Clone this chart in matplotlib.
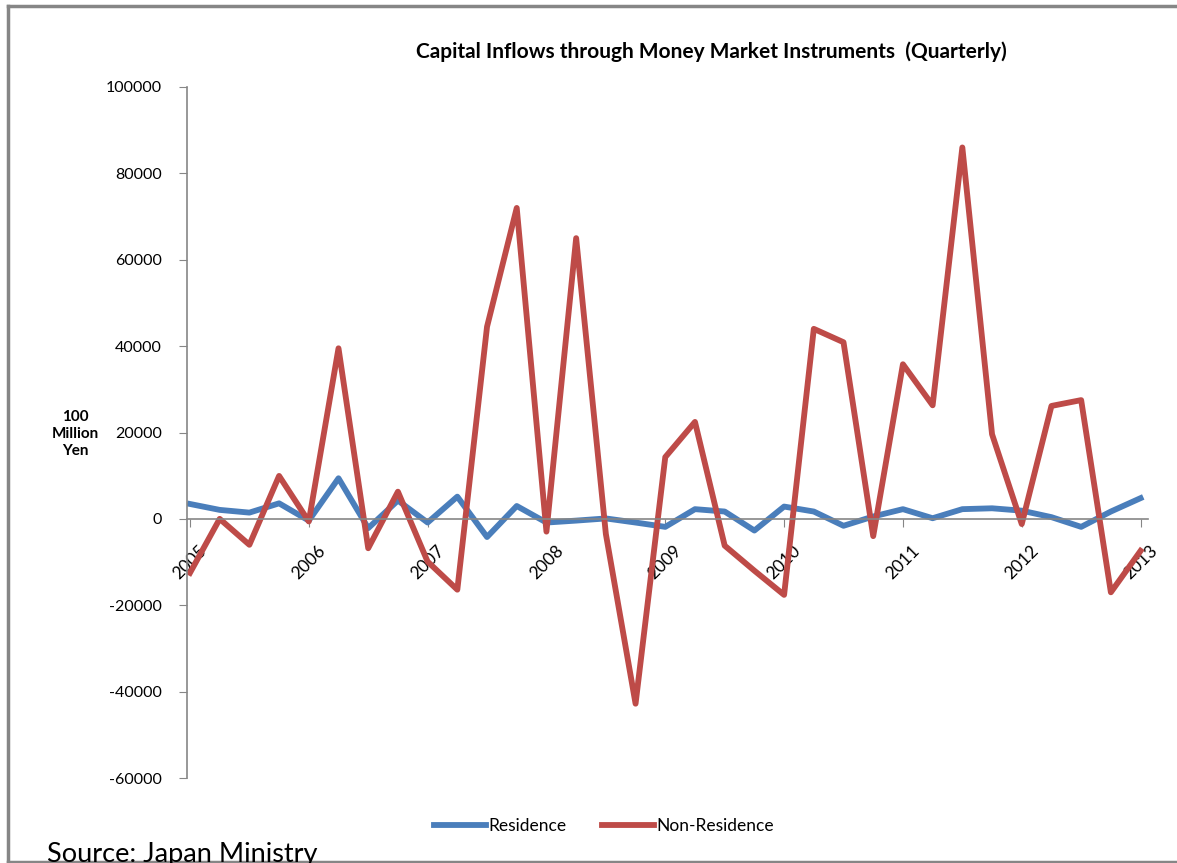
import numpy as np
import matplotlib.pyplot as plt
from matplotlib.lines import Line2D

# quarterly data, 2005Q1 .. 2013Q1 (100 million yen)
years = ["2005", "2006", "2007", "2008", "2009", "2010", "2011", "2012", "2013"]
residence = [3450, 2080, 1450, 3600, -400, 9400, -2150, 4250, -850, 5150,
             -4200, 2980, -850, -400, 100, -850, -1850, 2250, 1700, -2700,
             2850, 1700, -1600, 550, 2250, 150, 2250, 2450, 1900, 400,
             -1850, 1700, 4800]
non_residence = [-12500, 0, -6000, 9950, -600, 39500, -6800, 6300, -9900, -16400,
                 44500, 72000, -2950, 65000, -3500, -42800, 14300, 22450, -6200, -12000,
                 -17600, 44000, 40900, -4000, 35800, 26300, 86000, 19600, -1200, 26150,
                 27500, -17000, -7400]

plt.rcParams['font.family'] = ['Lato', 'DejaVu Sans']

W, H = 1177, 863
fig = plt.figure(figsize=(W / 100, H / 100), dpi=100)

# chart frame (top, left, bottom only)
frame_col = '#868686'
for xs, ys in [((8 / W, 1.0), (1 - 6 / H, 1 - 6 / H)),
               ((8 / W, 8 / W), (1 - 6 / H, 1 - 862 / H)),
               ((8 / W, 1.0), (1 - 862 / H, 1 - 862 / H))]:
    fig.add_artist(Line2D(xs, ys, transform=fig.transFigure, color=frame_col, lw=2.5))

ax = fig.add_axes([187 / W, 1 - 778 / H, (1148 - 187) / W, (778 - 87) / H])

x = np.arange(len(residence))
ax.plot(x, residence, color='#4a7ebb', lw=4.2, solid_joinstyle='round', label='Residence')
ax.plot(x, non_residence, color='#be4b48', lw=4.2, solid_joinstyle='round', label='Non-Residence')

ax.set_ylim(-60000, 100000)
ax.set_xlim(-0.1, 32.25)
ax.set_yticks(np.arange(-60000, 100001, 20000))
ax.set_yticklabels([str(v) for v in range(-60000, 100001, 20000)], fontsize=11.5)

ax.set_xticks(np.arange(0, 33, 4))
ax.set_xticklabels(years)
ax.tick_params(axis='x', labelrotation=45, labelsize=12.5)
for lab in ax.get_xticklabels():
    lab.set_ha('right')
    lab.set_va('center')
    lab.set_rotation_mode('anchor')

for s in ['top', 'right']:
    ax.spines[s].set_visible(False)
ax.spines['left'].set_color(frame_col)
ax.spines['bottom'].set_color(frame_col)
ax.spines['bottom'].set_position(('data', 0))
ax.spines['left'].set_linewidth(1.2)
ax.spines['bottom'].set_linewidth(1.2)
ax.tick_params(axis='y', direction='out', length=6, color=frame_col, pad=12)
ax.tick_params(axis='x', direction='out', length=6, color=frame_col, pad=11)

fig.text(711 / W, 1 - 52 / H, "Capital Inflows through Money Market Instruments  (Quarterly)",
         ha='center', va='center', fontsize=15, fontweight='bold')
fig.text(75 / W, 1 - 434 / H, "100\nMillion\nYen", ha='center', va='center',
         fontsize=11, fontweight='bold', linespacing=1.3)

ax.legend(loc='center', bbox_to_anchor=(604 / W, 1 - 826 / H), bbox_transform=fig.transFigure,
          ncol=2, frameon=False, fontsize=12.5, handlelength=3.0, handletextpad=0.15,
          columnspacing=2.0)

fig.text(47 / W, 1 - 862 / H, "Source: Japan Ministry", ha='left', va='baseline', fontsize=19.5)

fig.savefig("out.png", dpi=100)
